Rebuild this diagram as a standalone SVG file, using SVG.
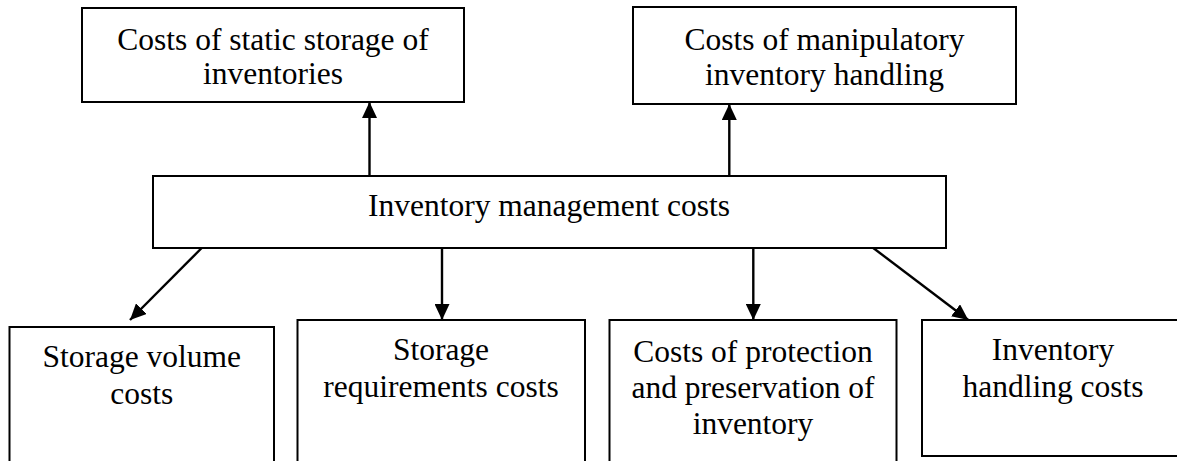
<svg xmlns="http://www.w3.org/2000/svg" width="1177" height="461" viewBox="0 0 1177 461">
<style>
.box{fill:#fff;stroke:#000;stroke-width:2}
.t{font-family:'Liberation Serif','Times New Roman','DejaVu Serif',serif;font-size:31.5px;fill:#000;text-anchor:middle}
.c{stroke:#000;stroke-width:2.4;fill:none;marker-end:url(#ah)}
</style>
<defs>
<marker id="ah" markerUnits="userSpaceOnUse" markerWidth="16" markerHeight="15" refX="16" refY="7.5" orient="auto" viewBox="0 0 16 15">
<path d="M0,0 L16,7.5 L0,15 z" fill="#000"/>
</marker>
</defs>
<rect width="1177" height="461" fill="#fff"/>
<g id="n-static">
<rect class="box" x="82" y="8" width="382" height="94"/>
<text class="t" font-family="Liberation Serif, serif" x="273" y="50">Costs of static storage of</text>
<text class="t" font-family="Liberation Serif, serif" x="273" y="84">inventories</text>
</g>
<g id="n-manip">
<rect class="box" x="633" y="7" width="383" height="97"/>
<text class="t" x="824.5" y="50">Costs of manipulatory</text>
<text class="t" x="824.5" y="85">inventory handling</text>
</g>
<g id="n-main">
<rect class="box" x="153" y="176" width="793" height="72"/>
<text class="t" x="549" y="216">Inventory management costs</text>
</g>
<g id="n-volume">
<rect class="box" x="9.5" y="327" width="264.5" height="150"/>
<text class="t" x="141.7" y="367">Storage volume</text>
<text class="t" x="141.7" y="404">costs</text>
</g>
<g id="n-requirements">
<rect class="box" x="297.5" y="320" width="287.5" height="160"/>
<text class="t" x="441" y="360">Storage</text>
<text class="t" x="441" y="397">requirements costs</text>
</g>
<g id="n-protection">
<rect class="box" x="609.5" y="320" width="287" height="160"/>
<text class="t" x="753" y="361.5">Costs of protection</text>
<text class="t" x="753" y="398">and preservation of</text>
<text class="t" x="753" y="434">inventory</text>
</g>
<g id="n-handling">
<rect class="box" x="922" y="320" width="262" height="136"/>
<text class="t" x="1053" y="360">Inventory</text>
<text class="t" x="1053" y="397">handling costs</text>
</g>
<g id="connectors">
<line class="c" x1="369.5" y1="176" x2="369.5" y2="102"/>
<line class="c" x1="729.3" y1="176" x2="729.3" y2="104"/>
<line class="c" x1="201.7" y1="248" x2="130" y2="320"/>
<line class="c" x1="442" y1="248" x2="442" y2="320"/>
<line class="c" x1="753.3" y1="248" x2="753.3" y2="320"/>
<line class="c" x1="873.3" y1="248" x2="968.3" y2="320"/>
</g>
</svg>
